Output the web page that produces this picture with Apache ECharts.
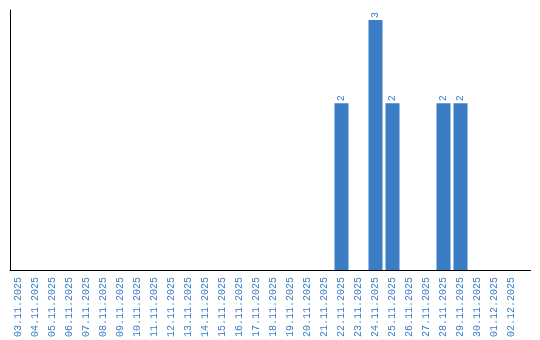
<!DOCTYPE html>
<html><head><meta charset="utf-8">
<script src="https://cdn.jsdelivr.net/npm/echarts@6/dist/echarts.min.js"></script>
<style>html,body{margin:0;padding:0;background:#fff}#c{width:540px;height:340px}</style>
</head><body><div id="c"></div>
<script>
const categories = ["03.11.2025","04.11.2025","05.11.2025","06.11.2025","07.11.2025","08.11.2025","09.11.2025","10.11.2025","11.11.2025","12.11.2025","13.11.2025","14.11.2025","15.11.2025","16.11.2025","17.11.2025","18.11.2025","19.11.2025","20.11.2025","21.11.2025","22.11.2025","23.11.2025","24.11.2025","25.11.2025","26.11.2025","27.11.2025","28.11.2025","29.11.2025","30.11.2025","01.12.2025","02.12.2025"];
const values = [0,0,0,0,0,0,0,0,0,0,0,0,0,0,0,0,0,0,0,2,0,3,2,0,0,2,2,0,0,0];
const blue = '#3b7dc4';
const chart = echarts.init(document.getElementById('c'));
chart.setOption({
  animation: false,
  grid: {left: 10, top: 10, width: 510, bottom: 70},
  graphic: [{type: 'line', shape: {x1: 520, y1: 270.5, x2: 531, y2: 270.5}, style: {stroke: '#000', lineWidth: 1}}],
  xAxis: {
    type: 'category', data: categories,
    axisLine: {lineStyle: {color: '#000', width: 1}},
    axisTick: {show: false},
    axisLabel: {rotate: 90, interval: 0, color: blue, fontFamily: 'Liberation Mono', fontSize: 10, margin: 7}
  },
  yAxis: {
    type: 'value', min: 0, max: 3.12,
    axisLine: {show: true, lineStyle: {color: '#000', width: 1}},
    axisTick: {show: false}, axisLabel: {show: false}, splitLine: {show: false}
  },
  series: [{
    type: 'bar', data: values.map(v => v === 0 ? null : v), barWidth: 14,
    itemStyle: {color: blue},
    label: {show: true, position: 'top', rotate: 90, align: 'left', verticalAlign: 'middle', distance: 2,
      color: blue, fontFamily: 'Liberation Mono', fontSize: 10}
  }]
});
</script></body></html>
